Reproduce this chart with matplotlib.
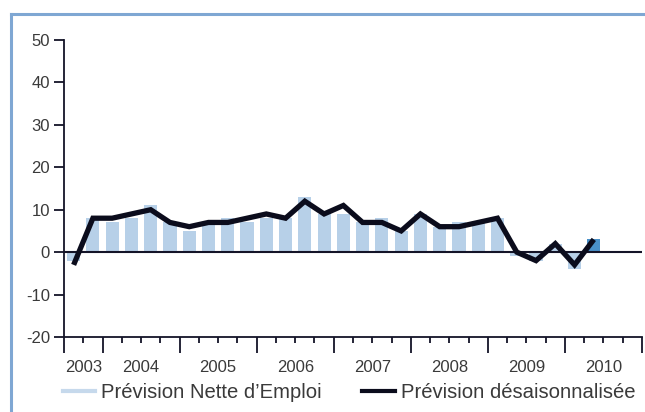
import matplotlib
matplotlib.use("Agg")
import matplotlib.pyplot as plt
from matplotlib.lines import Line2D
from matplotlib.transforms import blended_transform_factory
import numpy as np

plt.rcParams['font.family'] = ['Liberation Sans', 'DejaVu Sans']

# Quarterly data, 2003 Q3 .. 2010 Q2
quarters = ["2003T3", "2003T4",
            "2004T1", "2004T2", "2004T3", "2004T4",
            "2005T1", "2005T2", "2005T3", "2005T4",
            "2006T1", "2006T2", "2006T3", "2006T4",
            "2007T1", "2007T2", "2007T3", "2007T4",
            "2008T1", "2008T2", "2008T3", "2008T4",
            "2009T1", "2009T2", "2009T3", "2009T4",
            "2010T1", "2010T2"]
nette = [-2, 8, 7, 8, 11, 7, 5, 7, 8, 7, 8, 8, 13, 9, 9, 7, 8, 5, 9, 6, 7, 7, 8, -1, -2, 2, -4, 3]
desaison = [-3, 8, 8, 9, 10, 7, 6, 7, 7, 8, 9, 8, 12, 9, 11, 7, 7, 5, 9, 6, 6, 7, 8, 0, -2, 2, -3, 3]
years = ["2003", "2004", "2005", "2006", "2007", "2008", "2009", "2010"]
year_quarters = [2, 4, 4, 4, 4, 4, 4, 4]   # quarters shown for each year
yticks = [-20, -10, 0, 10, 20, 30, 40, 50]
labels = ["Prévision Nette d\u2019Emploi", "Prévision désaisonnalisée"]

light = "#b7d0e8"
dark_bar = "#4a90c8"
line_col = "#0b0c1c"
axis_col = "#141428"
text_col = "#3a3a3a"

W, H = 645, 412
fig = plt.figure(figsize=(W / 100, H / 100), dpi=100)
ax = fig.add_axes([64 / W, (H - 337) / H, (642 - 64) / W, (337 - 40) / H])

n_slots = sum(year_quarters)
x = np.arange(len(quarters)) + 0.5
colors = [light] * (len(quarters) - 1) + [dark_bar]
ax.bar(x, nette, width=0.68, color=colors, zorder=2)
ax.axhline(0, color=axis_col, lw=1.5, zorder=3)
ax.plot(x, desaison, color=line_col, lw=3.8, zorder=4, solid_joinstyle='miter',
        solid_capstyle='butt')

ax.set_xlim(0, n_slots)
ax.set_ylim(-20, 50)

for s in ['top', 'right']:
    ax.spines[s].set_visible(False)
for s in ['left', 'bottom']:
    ax.spines[s].set_color(axis_col)
    ax.spines[s].set_linewidth(1.3)

ax.set_yticks(yticks)
ax.set_yticklabels([str(v) for v in yticks])
ax.tick_params(axis='y', direction='out', length=7, width=1.3, color=axis_col,
               labelsize=12, labelcolor=text_col, pad=3)

bounds = np.concatenate([[0], np.cumsum(year_quarters)])
ax.set_xticks(bounds)
ax.set_xticklabels([])
ax.set_xticks(np.arange(n_slots + 1), minor=True)
ax.tick_params(axis='x', which='major', direction='out', length=11.5, width=1.3, color=axis_col)
ax.tick_params(axis='x', which='minor', direction='out', length=4.5, width=1.3, color=axis_col)

trans = blended_transform_factory(ax.transData, ax.transAxes)
off = -(367 - 337) / (337 - 40)
for i, yr in enumerate(years):
    cx = (bounds[i] + bounds[i + 1]) / 2
    ax.text(cx, off, yr, transform=trans, ha='center', va='center', fontsize=12, color=text_col)

handles = [Line2D([], [], color="#c6d9ec", lw=3),
           Line2D([], [], color=line_col, lw=3)]
fig.legend(handles, labels, loc='center', bbox_to_anchor=(349 / W, (H - 393) / H), ncol=2,
           frameon=False, fontsize=14.6, handlelength=1.6, handletextpad=0.3,
           columnspacing=2.0, labelcolor=text_col, borderpad=0, borderaxespad=0)

# light blue frame (left and top edges)
fc = "#7fa7d3"
fig.add_artist(Line2D([11 / W, 11 / W], [0, 1 - 14 / H], color=fc, lw=2.2, transform=fig.transFigure))
fig.add_artist(Line2D([11 / W, 1], [1 - 14 / H, 1 - 14 / H], color=fc, lw=2.2, transform=fig.transFigure))

fig.savefig("out.png", dpi=100)
